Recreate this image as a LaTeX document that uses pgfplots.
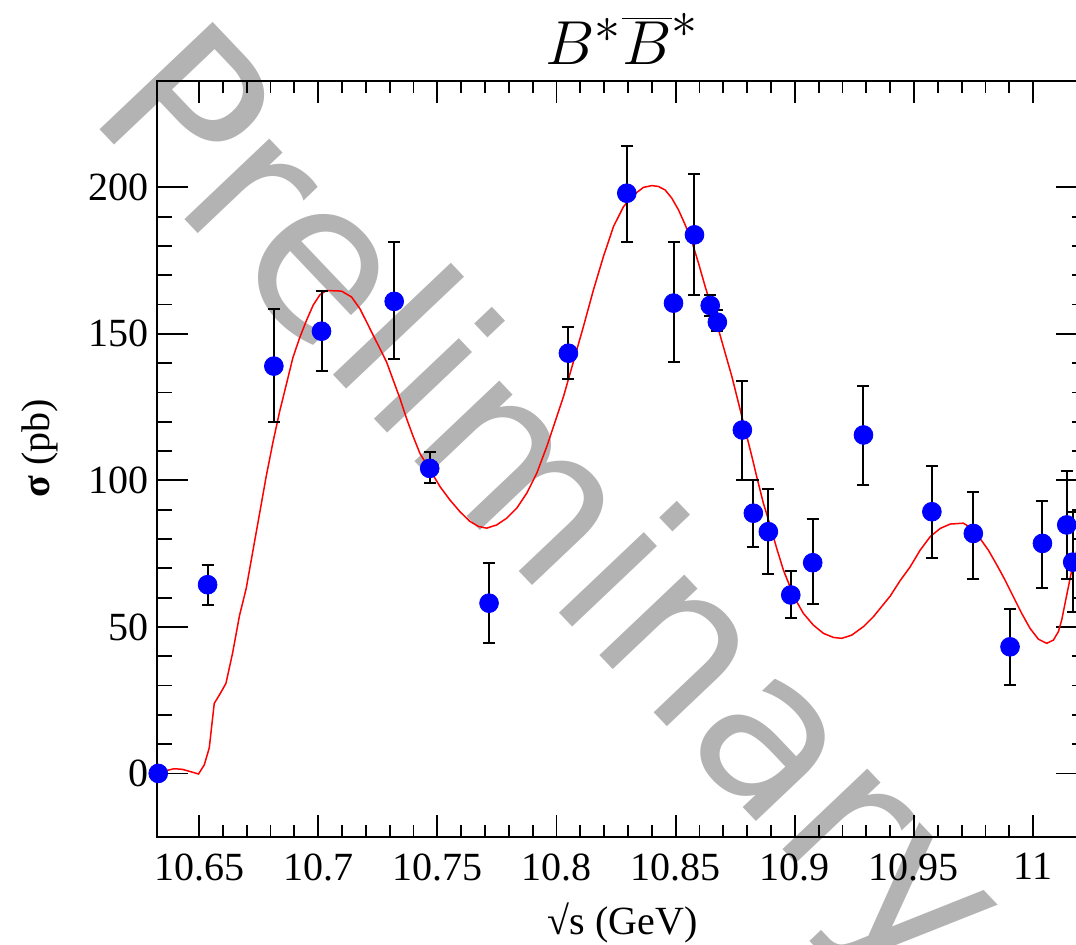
\documentclass[border=0pt]{standalone}
\usepackage{graphicx}
\usepackage{fontspec}
\setmainfont{Liberation Serif}
\newfontfamily\wmfont{DejaVu Sans}
\usepackage{pgfplots}
\pgfplotsset{compat=1.18}
\usepackage{pgfplotstable}

\definecolor{wmgray}{RGB}{179,179,179}

% measured points: x, sigma, error up, error down
\pgfplotstableread{
x y ep em
10.6329 0.0 0 0
10.6536 64.4 6.7 6.8
10.6814 139.0 19.5 19.0
10.7014 150.9 13.6 13.6
10.7319 161.1 20.1 19.8
10.7468 104.1 5.7 4.9
10.7717 58.1 13.8 13.7
10.8050 143.4 8.8 8.8
10.8295 198.0 16.2 16.8
10.8491 160.5 20.7 20.2
10.8579 183.8 20.8 20.7
10.8645 159.7 3.5 3.5
10.8675 154.0 4.0 3.0
10.8780 117.2 16.8 17.1
10.8826 88.8 11.3 11.4
10.8889 82.5 14.4 14.6
10.8983 60.9 8.3 8.0
10.9075 71.9 14.8 14.2
10.9288 115.5 16.8 17.1
10.9575 89.3 15.7 15.9
10.9749 81.9 14.2 15.6
10.9903 43.2 12.9 12.9
11.0039 78.5 14.6 15.3
11.0141 84.8 18.5 18.5
11.0166 72.1 17.0 17.0
}\bbdata

% fit curve
\pgfplotstableread{
x y
10.6325 0
10.6339 0.2
10.6365 1.0
10.6395 1.6
10.6430 1.4
10.6473 0.4
10.6498 -0.2
10.6522 2.9
10.6543 8.7
10.6564 23.9
10.6585 26.7
10.6613 30.7
10.6641 41.1
10.6670 53.9
10.6698 63.1
10.6726 75.9
10.6754 88.6
10.6782 101.4
10.6810 112.9
10.6838 123.4
10.6866 132.6
10.6894 141.9
10.6923 148.8
10.6951 154.6
10.6979 159.8
10.7007 163.3
10.7035 164.8
10.7098 164.6
10.7140 162.6
10.7175 158.6
10.7203 154.1
10.7231 149.5
10.7259 145.0
10.7287 140.4
10.7315 134.2
10.7343 128.0
10.7371 121.1
10.7399 114.9
10.7427 109.2
10.7469 103.6
10.7511 97.9
10.7553 93.3
10.7595 89.3
10.7637 86.0
10.7672 84.3
10.7707 83.7
10.7749 84.8
10.7791 87.1
10.7833 90.5
10.7875 95.6
10.7917 102.4
10.7959 111.5
10.8001 121.7
10.8029 128.5
10.8071 140.5
10.8113 152.5
10.8155 165.0
10.8197 176.4
10.8239 186.6
10.8281 193.4
10.8323 197.4
10.8365 200.0
10.8400 200.6
10.8428 200.3
10.8456 199.1
10.8484 196.3
10.8512 192.3
10.8540 187.2
10.8568 181.5
10.8596 174.1
10.8624 166.1
10.8652 158.8
10.8680 151.4
10.8708 143.4
10.8736 135.4
10.8764 126.3
10.8792 117.2
10.8820 108.1
10.8840 101.3
10.8868 92.2
10.8896 84.8
10.8924 76.8
10.8952 69.4
10.8980 63.7
10.9008 58.6
10.9036 54.6
10.9078 50.6
10.9120 47.8
10.9162 46.4
10.9197 46.1
10.9239 47.2
10.9288 50.1
10.9330 53.5
10.9358 56.3
10.9400 60.5
10.9442 65.8
10.9484 70.5
10.9526 76.2
10.9568 80.8
10.9610 83.6
10.9652 85.1
10.9707 85.4
10.9743 83.6
10.9777 80.2
10.9812 76.2
10.9848 71.1
10.9882 66.0
10.9917 60.3
10.9952 54.6
10.9987 49.5
11.0022 45.8
11.0057 44.4
11.0085 45.5
11.0106 48.4
11.0120 52.4
11.0134 58.1
11.0148 63.7
11.0162 69.4
11.0176 73.9
11.0190 78.0
11.0225 86.0
}\fitcurve

\begin{document}
\begin{tikzpicture}
% watermark behind the plot
\node[rotate=-46.5, anchor=base west, inner sep=0pt, text=wmgray,
      font=\wmfont\fontsize{107}{107}\selectfont] at (-36pt,361.55pt) {Preliminary};

\begin{axis}[
  at={(0,0)}, anchor=south west,
  scale only axis, width=464.85pt, height=378pt,
  xmin=10.6325, xmax=11.0226, ymin=-21.7, ymax=236.3,
  clip=false,
  axis line style={line width=1pt},
  tick align=inside, tick pos=both,
  every tick/.style={black, line width=0.9pt},
  xtick style={/pgfplots/major tick length=11pt, /pgfplots/minor tick length=6pt},
  ytick style={/pgfplots/major tick length=15.5pt, /pgfplots/minor tick length=7.5pt},
  xtick={10.65,10.7,10.75,10.8,10.85,10.9,10.95,11},
  xticklabels={10.65,10.7,10.75,10.8,10.85,10.9,10.95,11},
  ytick={0,50,100,150,200},
  minor x tick num=4, minor y tick num=4,
  /pgf/number format/assume math mode=true,
  tick label style={font=\fontsize{20}{20}\selectfont},
  yticklabel style={anchor=east, inner sep=0pt, xshift=-4pt},
  xticklabel style={anchor=north, inner sep=0pt, yshift=-8pt},
  label style={font=\fontsize{20}{20}\selectfont},
  xlabel={√s (GeV)},
  xlabel style={at={(axis description cs:0.5005,-0.1296)}, anchor=base, inner sep=0pt},
  ylabel={\textbf{σ} (pb)},
  ylabel style={at={(axis description cs:-0.1262,0.5146)}, anchor=center, inner sep=0pt},
  title={\scalebox{1.25}{$B^*\overline{B}^*$}},
  every axis title/.style={at={(axis description cs:0.5,1)}, anchor=base, yshift=8pt,
               inner sep=0pt, font=\fontsize{24.88}{25}\selectfont},
]
\addplot[red, line width=0.75pt, no marks] table[x=x, y=y] {\fitcurve};
\addplot[only marks, mark=*, mark size=4.7pt, color=blue,
         mark options={fill=blue, draw=blue},
         error bars/.cd, y dir=both, y explicit,
         error bar style={line width=1pt, black},
         error mark options={rotate=90, mark size=3pt, line width=1pt, black}]
  table[x=x, y=y, y error plus=ep, y error minus=em] {\bbdata};
\end{axis}

\pgfresetboundingbox
\useasboundingbox (-78.65pt,-53.5pt) rectangle (459.35pt,418.5pt);
\end{tikzpicture}
\end{document}
